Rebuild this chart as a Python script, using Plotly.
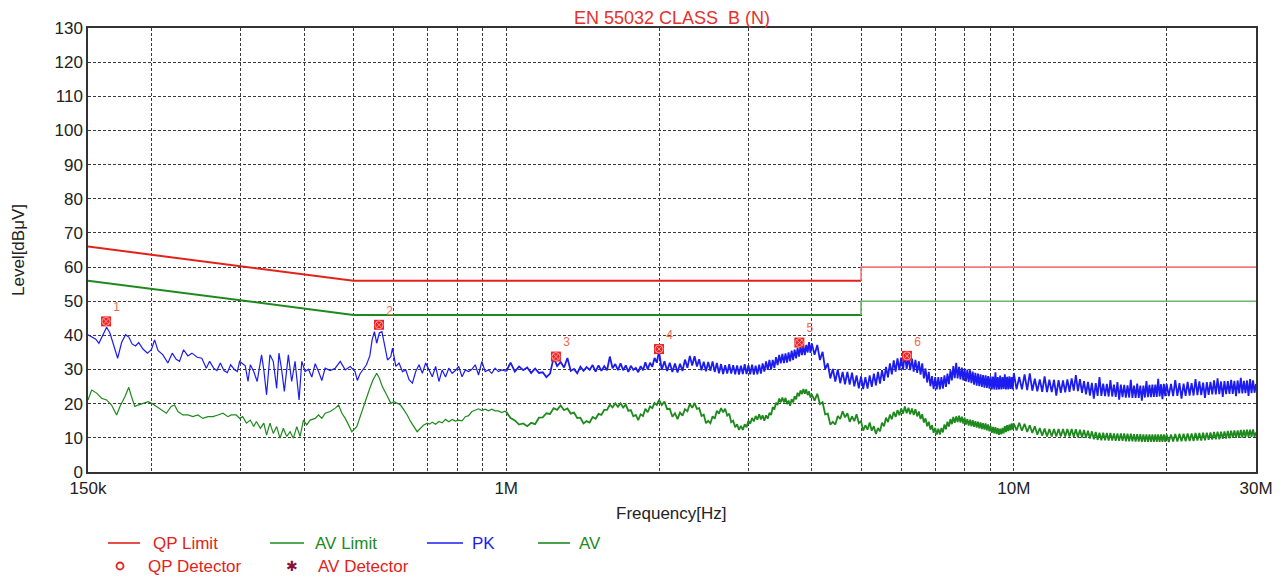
import math
import plotly.graph_objects as go

# ---------------- data ----------------
# PK (peak) trace, 150 kHz .. 1 MHz  (kHz, dBuV)
pk_low_khz = [
    150.0, 152.5, 155.4, 157.6, 160.0, 163.2, 165.7, 168.7, 171.6, 174.7,
    177.9, 180.5, 183.2, 186.1, 188.8, 192.5, 196.4, 200.0, 202.9, 206.0,
    210.7, 215.5, 219.8, 223.8, 227.2, 231.4, 236.0, 240.3, 246.2, 251.4,
    256.5, 260.4, 265.2, 269.2, 273.4, 277.9, 282.2, 286.5, 291.7, 295.3,
    298.4, 302.5, 306.1, 310.0, 313.2, 318.1, 323.1, 329.6, 333.0, 337.2,
    342.4, 347.6, 353.0, 356.7, 361.1, 365.5, 372.2, 377.9, 383.7, 390.8,
    395.6, 401.6, 407.7, 414.0, 420.4, 426.8, 433.3, 439.9, 450.0, 460.4,
    471.0, 481.8, 492.8, 503.7, 509.0, 515.0, 522.8, 530.5, 538.6, 544.3,
    550.0, 555.7, 562.3, 569.0, 575.0, 583.6, 592.5, 597.0, 606.0, 615.0,
    624.5, 634.0, 643.6, 653.3, 663.4, 673.4, 683.6, 694.0, 704.5, 715.1,
    726.0, 737.0, 748.0, 759.3, 770.8, 782.4, 794.2, 806.2, 818.4, 830.8,
    843.3, 856.0, 869.0, 882.0, 895.5, 909.0, 922.7, 936.6, 950.8, 965.0,
    979.7,
]
pk_low_dbuv = [
    40.2, 39.7, 38.9, 37.7, 39.9, 42.4, 40.7, 36.8, 33.3, 37.9,
    40.2, 39.5, 37.5, 36.9, 37.9, 36.0, 34.8, 35.8, 38.7, 35.6,
    34.3, 31.9, 34.8, 33.0, 32.4, 35.8, 34.0, 34.8, 33.6, 33.3,
    30.4, 32.4, 30.4, 29.7, 31.9, 29.7, 29.1, 31.4, 29.9, 29.4,
    32.4, 31.7, 31.1, 26.5, 31.4, 29.4, 26.5, 34.3, 29.9, 22.6,
    34.3, 32.4, 24.5, 34.8, 29.9, 23.6, 34.3, 26.5, 32.4, 21.1,
    32.4, 29.4, 30.1, 27.8, 31.7, 29.4, 26.8, 30.4, 29.7, 30.4,
    32.4, 29.9, 30.9, 29.4, 26.8, 28.7, 29.9, 31.4, 34.0, 38.7,
    41.1, 37.7, 40.7, 41.1, 37.7, 32.8, 33.8, 36.3, 30.9, 31.9,
    29.4, 29.9, 27.0, 26.0, 29.4, 31.4, 28.9, 31.9, 29.9, 27.9,
    30.9, 26.5, 29.9, 27.8, 30.4, 28.9, 29.7, 30.9, 27.9, 29.9,
    29.4, 30.1, 31.4, 28.4, 32.4, 29.4, 29.9, 28.9, 30.4, 29.4,
    29.9,
]

# AV (average) trace, 150 kHz .. 1 MHz  (kHz, dBuV)
av_low_khz = [
    150.0, 152.5, 156.0, 159.5, 163.2, 166.9, 170.8, 173.4, 177.4, 180.5,
    182.7, 185.5, 188.3, 192.5, 196.9, 200.3, 204.6, 209.2, 214.0, 218.8,
    222.1, 225.5, 230.7, 236.0, 241.4, 246.9, 252.6, 258.5, 264.4, 270.5,
    276.7, 283.0, 287.3, 293.9, 298.4, 302.5, 307.8, 313.2, 318.1, 322.0,
    327.9, 333.0, 337.2, 342.4, 347.6, 353.0, 358.3, 363.8, 369.5, 375.1,
    380.8, 386.7, 392.6, 398.6, 404.6, 410.9, 420.4, 426.8, 433.3, 439.9,
    450.0, 460.4, 467.5, 474.6, 481.8, 489.1, 496.4, 507.6, 515.0, 522.8,
    530.5, 538.6, 546.6, 555.7, 562.3, 570.0, 583.6, 592.5, 601.2, 610.2,
    619.3, 628.6, 638.2, 647.9, 657.8, 667.7, 678.0, 688.3, 698.7, 707.0,
    715.1, 726.0, 737.0, 748.0, 759.3, 770.8, 782.4, 794.2, 806.2, 818.4,
    830.8, 843.3, 856.0, 869.0, 882.0, 895.5, 909.0, 922.7, 936.6, 950.8,
    965.0, 979.7, 994.5,
]
av_low_dbuv = [
    21.1, 24.0, 23.1, 21.6, 21.1, 19.6, 16.7, 19.2, 22.1, 24.8,
    22.1, 19.2, 19.6, 20.1, 20.6, 20.1, 19.2, 18.2, 17.2, 19.2,
    19.6, 17.7, 16.7, 16.7, 16.2, 16.7, 15.7, 16.2, 16.2, 16.7,
    17.2, 16.2, 16.7, 16.7, 15.7, 16.2, 14.3, 15.2, 13.3, 14.8,
    12.8, 14.3, 10.8, 14.3, 11.3, 13.3, 9.9, 12.8, 10.4, 11.8,
    9.9, 13.3, 10.4, 15.2, 13.8, 15.2, 15.7, 16.7, 15.7, 17.2,
    17.7, 18.7, 19.6, 17.2, 15.7, 13.8, 11.8, 13.3, 16.2, 19.2,
    21.6, 24.5, 27.0, 28.9, 27.5, 25.0, 22.1, 20.1, 20.6, 20.1,
    19.6, 18.2, 16.7, 14.8, 13.3, 11.8, 12.8, 13.8, 14.3, 14.0,
    14.6, 14.0, 14.8, 14.4, 15.4, 14.7, 15.4, 14.9, 15.2, 15.0,
    16.2, 16.5, 17.7, 18.0, 18.5, 18.0, 18.4, 17.9, 18.4, 17.9,
    17.9, 17.4, 17.8,
]

# Common receiver sweep points 1 MHz .. 30 MHz (MHz)
sweep_mhz = [
    # 1.00 - 2.00
    1.00, 1.02, 1.04, 1.06, 1.08, 1.10, 1.12, 1.14, 1.16, 1.18,
    1.20, 1.22, 1.24, 1.26, 1.28, 1.30, 1.32, 1.34, 1.36, 1.38,
    1.40, 1.42, 1.44, 1.46, 1.48, 1.50, 1.52, 1.54, 1.56, 1.58,
    1.60, 1.62, 1.64, 1.66, 1.68, 1.70, 1.72, 1.74, 1.76, 1.78,
    1.80, 1.82, 1.84, 1.86, 1.88, 1.90, 1.92, 1.94, 1.96, 1.98,
    2.00,
    # 2.025 - 4.000
    2.025, 2.050, 2.075, 2.100, 2.125, 2.150, 2.175, 2.200, 2.225, 2.250,
    2.275, 2.300, 2.325, 2.350, 2.375, 2.400, 2.425, 2.450, 2.475, 2.500,
    2.525, 2.550, 2.575, 2.600, 2.625, 2.650, 2.675, 2.700, 2.725, 2.750,
    2.775, 2.800, 2.825, 2.850, 2.875, 2.900, 2.925, 2.950, 2.975, 3.000,
    3.025, 3.050, 3.075, 3.100, 3.125, 3.150, 3.175, 3.200, 3.225, 3.250,
    3.275, 3.300, 3.325, 3.350, 3.375, 3.400, 3.425, 3.450, 3.475, 3.500,
    3.525, 3.550, 3.575, 3.600, 3.625, 3.650, 3.675, 3.700, 3.725, 3.750,
    3.775, 3.800, 3.825, 3.850, 3.875, 3.900, 3.925, 3.950, 3.975, 4.000,
    # 4.05 - 10.00
    4.05, 4.10, 4.15, 4.20, 4.25, 4.30, 4.35, 4.40, 4.45, 4.50,
    4.55, 4.60, 4.65, 4.70, 4.75, 4.80, 4.85, 4.90, 4.95, 5.00,
    5.05, 5.10, 5.15, 5.20, 5.25, 5.30, 5.35, 5.40, 5.45, 5.50,
    5.55, 5.60, 5.65, 5.70, 5.75, 5.80, 5.85, 5.90, 5.95, 6.00,
    6.05, 6.10, 6.15, 6.20, 6.25, 6.30, 6.35, 6.40, 6.45, 6.50,
    6.55, 6.60, 6.65, 6.70, 6.75, 6.80, 6.85, 6.90, 6.95, 7.00,
    7.05, 7.10, 7.15, 7.20, 7.25, 7.30, 7.35, 7.40, 7.45, 7.50,
    7.55, 7.60, 7.65, 7.70, 7.75, 7.80, 7.85, 7.90, 7.95, 8.00,
    8.05, 8.10, 8.15, 8.20, 8.25, 8.30, 8.35, 8.40, 8.45, 8.50,
    8.55, 8.60, 8.65, 8.70, 8.75, 8.80, 8.85, 8.90, 8.95, 9.00,
    9.05, 9.10, 9.15, 9.20, 9.25, 9.30, 9.35, 9.40, 9.45, 9.50,
    9.55, 9.60, 9.65, 9.70, 9.75, 9.80, 9.85, 9.90, 9.95, 10.00,
    # 10.125 - 20.0
    10.125, 10.25, 10.375, 10.5, 10.625, 10.75, 10.875, 11.0, 11.125, 11.25,
    11.375, 11.5, 11.625, 11.75, 11.875, 12.0, 12.125, 12.25, 12.375, 12.5,
    12.625, 12.75, 12.875, 13.0, 13.125, 13.25, 13.375, 13.5, 13.625, 13.75,
    13.875, 14.0, 14.125, 14.25, 14.375, 14.5, 14.625, 14.75, 14.875, 15.0,
    15.125, 15.25, 15.375, 15.5, 15.625, 15.75, 15.875, 16.0, 16.125, 16.25,
    16.375, 16.5, 16.625, 16.75, 16.875, 17.0, 17.125, 17.25, 17.375, 17.5,
    17.625, 17.75, 17.875, 18.0, 18.125, 18.25, 18.375, 18.5, 18.625, 18.75,
    18.875, 19.0, 19.125, 19.25, 19.375, 19.5, 19.625, 19.75, 19.875, 20.0,
    # 20.2 - 30.0
    20.2, 20.4, 20.6, 20.8, 21.0, 21.2, 21.4, 21.6, 21.8, 22.0,
    22.2, 22.4, 22.6, 22.8, 23.0, 23.2, 23.4, 23.6, 23.8, 24.0,
    24.2, 24.4, 24.6, 24.8, 25.0, 25.2, 25.4, 25.6, 25.8, 26.0,
    26.2, 26.4, 26.6, 26.8, 27.0, 27.2, 27.4, 27.6, 27.8, 28.0,
    28.2, 28.4, 28.6, 28.8, 29.0, 29.2, 29.4, 29.6, 29.8, 30.0,
]
pk_high_dbuv = [
    # 1.00 - 2.00
    29.5, 32.0, 29.4, 30.9, 29.8, 30.6, 29.0, 30.3, 29.0, 29.2,
    27.8, 28.8, 33.5, 31.0, 32.2, 30.6, 33.4, 29.6, 30.2, 28.9,
    30.8, 29.6, 30.7, 29.9, 31.3, 29.4, 31.2, 29.6, 31.0, 29.8,
    33.8, 30.4, 31.6, 29.8, 31.8, 29.8, 31.2, 29.3, 31.1, 29.9,
    30.5, 29.2, 31.0, 29.8, 32.1, 30.0, 32.0, 30.8, 33.4, 32.0,
    35.3,
    # 2.025 - 4.000
    29.9, 32.4, 29.6, 32.0, 29.3, 31.8, 29.1, 31.7, 29.6, 32.9,
    30.5, 34.0, 31.2, 33.9, 30.9, 33.0, 29.8, 32.3, 29.5, 32.2,
    29.6, 32.4, 29.3, 31.9, 28.9, 31.6, 28.7, 31.3, 28.8, 31.6,
    28.8, 31.3, 28.6, 31.2, 28.5, 31.1, 28.7, 31.6, 28.7, 31.3,
    28.6, 31.4, 28.5, 31.1, 28.6, 31.4, 28.8, 31.8, 29.4, 32.4,
    29.9, 32.8, 30.0, 32.8, 30.5, 33.6, 31.3, 34.3, 31.8, 34.6,
    31.9, 34.7, 32.0, 35.0, 32.4, 35.5, 32.8, 35.8, 33.3, 36.3,
    33.8, 36.9, 34.2, 37.0, 34.2, 37.2, 35.0, 38.0, 34.9, 37.6,
    # 4.05 - 10.00
    34.3, 37.2, 32.8, 35.2, 30.1, 31.8, 27.4, 30.2, 26.5, 30.0,
    26.0, 29.3, 25.7, 29.3, 25.6, 29.1, 25.1, 28.3, 24.5, 28.0,
    24.3, 27.8, 24.4, 28.3, 24.9, 28.8, 25.4, 29.3, 25.9, 29.8,
    26.7, 30.8, 27.7, 31.8, 28.6, 32.7, 29.4, 33.3, 29.8, 33.5,
    30.0, 34.6, 30.1, 33.7, 29.8, 33.2, 29.4, 32.8, 29.0, 32.4,
    28.5, 31.8, 27.4, 30.3, 26.2, 29.3, 25.1, 28.1, 24.3, 27.8,
    24.2, 27.8, 24.2, 27.8, 24.4, 28.3, 24.9, 28.8, 25.7, 29.8,
    26.8, 31.0, 27.5, 32.0, 27.4, 30.8, 27.1, 30.6, 26.8, 30.3,
    26.5, 30.0, 26.3, 29.8, 26.0, 29.4, 25.6, 29.0, 25.3, 28.8,
    25.1, 28.6, 24.9, 28.4, 24.7, 28.3, 24.6, 28.1, 24.4, 28.0,
    24.2, 27.9, 24.2, 29.2, 24.1, 27.8, 24.2, 28.2, 24.2, 27.8,
    24.3, 28.6, 24.2, 27.9, 24.2, 28.0, 24.3, 27.8, 24.2, 29.0,
    # 10.125 - 20.0
    24.2, 27.8, 24.2, 28.6, 24.0, 28.9, 23.8, 27.3, 23.6, 27.1,
    23.5, 28.0, 23.4, 27.0, 23.4, 27.0, 22.4, 26.9, 23.2, 26.8,
    23.3, 27.1, 23.5, 27.4, 23.8, 28.4, 23.7, 27.2, 23.2, 26.6,
    22.7, 26.4, 22.4, 26.1, 21.5, 26.0, 22.3, 27.8, 22.3, 25.9,
    22.2, 25.8, 22.1, 26.9, 22.1, 25.6, 22.0, 26.3, 21.2, 25.6,
    21.9, 25.5, 21.8, 25.4, 21.8, 27.0, 21.7, 25.3, 21.7, 25.9,
    21.7, 25.3, 20.9, 25.3, 21.8, 26.6, 21.9, 25.5, 21.9, 25.6,
    22.0, 25.6, 22.0, 27.3, 22.1, 25.7, 21.3, 25.8, 22.2, 25.8,
    # 20.2 - 30.0
    22.2, 25.8, 22.2, 26.9, 22.3, 26.0, 21.5, 25.9, 22.3, 26.4,
    22.4, 26.0, 22.4, 27.2, 22.5, 26.5, 22.5, 26.2, 21.7, 26.3,
    22.6, 26.4, 22.7, 26.8, 22.7, 27.4, 22.8, 26.5, 22.0, 26.6,
    22.8, 26.6, 22.9, 27.0, 22.9, 26.7, 22.2, 26.8, 23.0, 27.6,
    23.0, 26.7, 23.1, 26.8, 22.3, 27.2, 23.1, 26.8, 23.2, 25.8,
]
av_high_dbuv = [
    # 1.00 - 2.00
    17.6, 15.8, 15.1, 13.9, 14.2, 13.4, 14.4, 14.0, 15.9, 16.0,
    17.2, 17.0, 18.7, 18.2, 19.5, 18.1, 18.6, 17.1, 17.4, 15.8,
    15.9, 14.2, 14.9, 14.5, 16.1, 15.6, 17.0, 16.7, 18.2, 18.2,
    19.7, 18.9, 20.1, 19.1, 20.1, 18.9, 19.7, 17.9, 18.1, 16.3,
    16.7, 15.2, 16.9, 16.4, 18.5, 17.5, 19.2, 18.7, 20.2, 19.6,
    21.1,
    # 2.025 - 4.000
    19.6, 20.6, 18.4, 18.5, 16.2, 17.2, 15.5, 17.4, 16.5, 18.4,
    17.8, 19.9, 18.8, 20.2, 18.5, 18.7, 16.4, 16.8, 14.3, 15.0,
    14.3, 16.3, 15.6, 17.9, 17.1, 18.7, 17.5, 18.5, 16.5, 17.1,
    14.6, 15.0, 13.1, 14.0, 12.3, 13.5, 12.3, 14.0, 13.1, 15.0,
    14.1, 15.8, 14.8, 16.4, 15.3, 16.9, 15.4, 16.6, 15.0, 16.6,
    15.6, 17.3, 16.7, 19.0, 18.3, 20.3, 19.6, 21.5, 20.4, 21.8,
    20.4, 21.7, 19.9, 20.9, 19.4, 21.3, 20.4, 22.2, 21.3, 23.2,
    22.2, 23.9, 22.8, 24.3, 22.9, 24.2, 22.5, 23.6, 21.8, 22.7,
    # 4.05 - 10.00
    20.9, 22.9, 19.9, 20.4, 16.9, 17.1, 13.9, 14.7, 13.9, 16.4,
    15.5, 17.8, 16.0, 17.2, 14.7, 16.3, 14.9, 16.9, 14.3, 14.9,
    12.1, 13.7, 12.4, 14.5, 12.1, 13.4, 11.1, 12.9, 11.9, 14.4,
    13.4, 15.9, 14.6, 16.8, 15.4, 17.6, 16.1, 18.1, 16.6, 18.6,
    17.1, 19.2, 17.2, 18.8, 16.9, 18.6, 16.7, 18.4, 16.3, 17.7,
    15.5, 16.9, 14.5, 15.7, 13.4, 14.7, 12.4, 13.7, 11.5, 12.9,
    11.0, 12.7, 11.0, 12.9, 11.6, 13.9, 12.5, 14.7, 13.3, 15.5,
    14.0, 16.1, 14.4, 16.3, 14.6, 16.5, 14.5, 16.2, 14.2, 15.9,
    13.9, 15.5, 13.6, 15.3, 13.4, 15.2, 13.2, 14.9, 13.0, 14.7,
    12.8, 14.5, 12.6, 14.3, 12.4, 14.2, 12.2, 13.9, 11.9, 13.5,
    11.5, 13.2, 11.3, 13.1, 11.1, 12.8, 10.9, 12.7, 11.0, 12.9,
    11.3, 13.4, 11.7, 13.7, 12.0, 13.9, 12.2, 14.2, 12.4, 14.2,
    # 10.125 - 20.0
    12.2, 14.4, 12.1, 14.1, 11.7, 13.7, 11.4, 13.4, 10.9, 12.9,
    10.6, 12.7, 10.4, 12.6, 10.4, 12.6, 10.4, 12.6, 10.4, 12.6,
    10.4, 12.6, 10.4, 12.6, 10.3, 12.5, 10.2, 12.4, 10.1, 12.3,
    10.0, 12.1, 9.8, 11.9, 9.6, 11.7, 9.4, 11.5, 9.3, 11.5,
    9.3, 11.4, 9.2, 11.4, 9.2, 11.3, 9.1, 11.3, 9.1, 11.3,
    9.1, 11.3, 9.0, 11.2, 9.0, 11.2, 9.0, 11.1, 8.9, 11.1,
    8.9, 11.1, 8.8, 11.0, 8.8, 11.0, 8.8, 11.0, 8.8, 11.0,
    8.8, 11.0, 8.8, 11.0, 8.8, 11.0, 8.8, 11.0, 8.8, 11.0,
    # 20.2 - 30.0
    8.8, 11.0, 8.9, 11.1, 8.9, 11.2, 9.0, 11.2, 9.0, 11.3,
    9.1, 11.3, 9.1, 11.4, 9.2, 11.4, 9.2, 11.5, 9.3, 11.5,
    9.4, 11.6, 9.5, 11.7, 9.6, 11.8, 9.6, 11.8, 9.7, 11.9,
    9.8, 12.0, 9.9, 12.1, 10.0, 12.2, 10.0, 12.2, 10.1, 12.3,
    10.1, 12.3, 10.2, 12.4, 10.2, 12.4, 10.3, 12.5, 10.3, 11.6,
]

# EN 55032 class B limits (Hz, dBuV)
qp_limit_hz = [150e3, 500e3, 5e6, 5e6, 30e6]
qp_limit_dbuv = [66, 56, 56, 60, 60]
av_limit_hz = [150e3, 500e3, 5e6, 5e6, 30e6]
av_limit_dbuv = [56, 46, 46, 50, 50]

# Final detector points
det_hz = [162.8e3, 561.6e3, 1.253e6, 2.0e6, 3.78e6, 6.16e6]
det_dbuv = [44.1, 43.1, 33.8, 36.0, 37.9, 34.0]
det_labels = ["1", "2", "3", "4", "5", "6"]

x_tick_hz = [150e3, 1e6, 10e6, 30e6]
x_tick_text = ["150k", "1M", "10M", "30M"]
x_minor_hz = [2e5, 3e5, 4e5, 5e5, 6e5, 7e5, 8e5, 9e5,
              2e6, 3e6, 4e6, 5e6, 6e6, 7e6, 8e6, 9e6, 2e7]

# ---------------- assemble ----------------
n = min(len(sweep_mhz), len(pk_high_dbuv), len(av_high_dbuv))
sweep_hz = [f * 1e6 for f in sweep_mhz[:n]]
pk_low_hz = [f * 1e3 for f in pk_low_khz]
av_low_hz = [f * 1e3 for f in av_low_khz]

RED = "#e2231a"
RED_L = "#f27a78"
GRN = "#1e8a1e"
GRN_L = "#6cb86c"
BLU = "#1c1cf0"
FONT = "Liberation Sans, Arial, sans-serif"

fig = go.Figure()
# sparse part (thin line) and dense noise part (slightly heavier line)
fig.add_trace(go.Scatter(x=pk_low_hz + sweep_hz[:1], y=pk_low_dbuv + pk_high_dbuv[:1],
                         mode="lines", line=dict(color=BLU, width=1.2), name="PK"))
fig.add_trace(go.Scatter(x=sweep_hz, y=pk_high_dbuv[:n], mode="lines",
                         line=dict(color=BLU, width=1.8), showlegend=False))
fig.add_trace(go.Scatter(x=av_low_hz + sweep_hz[:1], y=av_low_dbuv + av_high_dbuv[:1],
                         mode="lines", line=dict(color=GRN, width=1.2), name="AV"))
fig.add_trace(go.Scatter(x=sweep_hz, y=av_high_dbuv[:n], mode="lines",
                         line=dict(color=GRN, width=1.8), showlegend=False))
fig.add_trace(go.Scatter(x=qp_limit_hz[:3], y=qp_limit_dbuv[:3], mode="lines",
                         line=dict(color=RED, width=2), name="QP Limit"))
fig.add_trace(go.Scatter(x=qp_limit_hz[2:], y=qp_limit_dbuv[2:], mode="lines",
                         line=dict(color=RED_L, width=1.6), showlegend=False))
fig.add_trace(go.Scatter(x=av_limit_hz[:3], y=av_limit_dbuv[:3], mode="lines",
                         line=dict(color=GRN, width=2), name="AV Limit"))
fig.add_trace(go.Scatter(x=av_limit_hz[2:], y=av_limit_dbuv[2:], mode="lines",
                         line=dict(color=GRN_L, width=1.6), showlegend=False))
fig.add_trace(go.Scatter(x=det_hz, y=det_dbuv, mode="markers+text",
                         text=det_labels, textposition="top right",
                         textfont=dict(color="#f06a50", size=12, family=FONT),
                         marker=dict(symbol="square", size=10, color="#f02020",
                                     line=dict(width=0)),
                         name="QP Detector"))
fig.add_trace(go.Scatter(x=det_hz, y=det_dbuv, mode="markers",
                         marker=dict(symbol="circle-x-open", size=8, color="#ff9a9a",
                                     line=dict(width=1, color="#ff9a9a")),
                         name="AV Detector"))

GRID = "#3a3a3a"
DASH = "3px,2px"
W, H = 1279, 572   # page adds an 8px body margin
fig.update_layout(
    width=W, height=H,
    margin=dict(l=80, r=31, t=20, b=108),
    paper_bgcolor="white", plot_bgcolor="white",
    showlegend=False,
    font=dict(family=FONT, color="#333333", size=17),
    title=dict(text="EN 55032 CLASS  B (N)", x=0.5, xref="paper",
               y=1 - 10 / H, yref="container", yanchor="middle",
               xanchor="center", font=dict(color="#e8302a", size=18, family=FONT)),
    xaxis=dict(type="log",
               range=[math.log10(150e3), math.log10(30e6)],
               tickmode="array", tickvals=x_tick_hz, ticktext=x_tick_text,
               ticks="", showgrid=True, gridcolor=GRID, griddash=DASH, gridwidth=1,
               minor=dict(tickmode="array", tickvals=x_minor_hz, showgrid=True,
                          gridcolor=GRID, griddash=DASH, gridwidth=1, ticks=""),
               showline=True, linecolor="#333", linewidth=1.5, mirror=True,
               zeroline=False, tickfont=dict(size=17, color="#222")),
    yaxis=dict(range=[0, 130], tick0=0, dtick=10, ticks="",
               showgrid=True, gridcolor=GRID, griddash=DASH, gridwidth=1,
               showline=True, linecolor="#333", linewidth=1.5, mirror=True,
               zeroline=False, tickfont=dict(size=17, color="#222")),
)

# ---------- axis titles & legend (placed in page pixels) ----------
PL, PR, PT, PB = 88, 1256, 28, 472


def xp(px):
    return (px - PL) / (PR - PL)


def yp(py):
    return (PB - py) / (PB - PT)


ann = []
shapes = []
ann.append(dict(x=xp(671), y=yp(513), xref="paper", yref="paper", text="Frequency[Hz]",
                showarrow=False, xanchor="center", yanchor="middle",
                font=dict(size=17, color="#222", family=FONT)))
ann.append(dict(x=xp(18), y=yp(250), xref="paper", yref="paper", text="Level[dBμV]",
                showarrow=False, xanchor="center", yanchor="middle", textangle=-90,
                font=dict(size=17, color="#222", family=FONT)))

row1, row2 = 543, 566
legend_lines = [
    (108, 140, RED, "QP Limit", 151),
    (270, 304, GRN, "AV Limit", 313),
    (427, 463, BLU, "PK", 470),
    (538, 570, GRN, "AV", 577),
]
for x0, x1, col, label, tx in legend_lines:
    shapes.append(dict(type="line", xref="paper", yref="paper",
                       x0=xp(x0), x1=xp(x1), y0=yp(row1), y1=yp(row1),
                       line=dict(color=col, width=1.6)))
    ann.append(dict(x=xp(tx), y=yp(row1), xref="paper", yref="paper", text=label,
                    showarrow=False, xanchor="left", yanchor="middle",
                    font=dict(size=17, color=col, family=FONT)))

shapes.append(dict(type="circle", xref="paper", yref="paper",
                   x0=xp(116.5), x1=xp(123.5), y0=yp(569.5), y1=yp(562.5),
                   line=dict(color=RED, width=1.8)))
ann.append(dict(x=xp(146), y=yp(row2), xref="paper", yref="paper", text="QP Detector",
                showarrow=False, xanchor="left", yanchor="middle",
                font=dict(size=17, color=RED, family=FONT)))
ann.append(dict(x=xp(292), y=yp(row2), xref="paper", yref="paper", text="✱",
                showarrow=False, xanchor="center", yanchor="middle",
                font=dict(size=14, color="#8a0f3a", family="DejaVu Sans")))
ann.append(dict(x=xp(316), y=yp(row2), xref="paper", yref="paper", text="AV Detector",
                showarrow=False, xanchor="left", yanchor="middle",
                font=dict(size=17, color=RED, family=FONT)))

fig.update_layout(annotations=ann, shapes=shapes)
fig.write_html("out.html")
